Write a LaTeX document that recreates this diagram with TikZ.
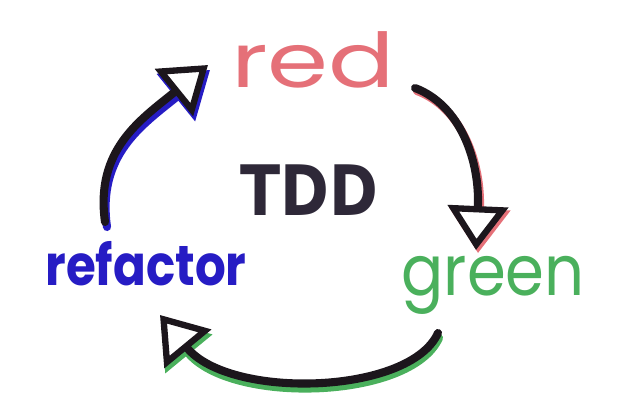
\documentclass[tikz,border=0pt]{standalone}
\usepackage{fontspec}
\setmainfont{Poppins}
\newfontfamily\tddfont{DejaVu Sans}
\usetikzlibrary{arrows.meta}

\definecolor{inkred}{RGB}{229,112,120}
\definecolor{inkgreen}{RGB}{74,176,92}
\definecolor{inkblue}{RGB}{38,28,196}
\definecolor{inkblack}{RGB}{28,22,28}
\definecolor{inktdd}{RGB}{46,40,56}

\begin{document}
\begin{tikzpicture}[x=0.02cm,y=-0.02cm,
  pen/.style={draw=inkblack,line width=4.6pt,line cap=round,
    -{Triangle[fill=white,line width=3.6pt,length=25pt,width=34pt]}},
  shade/.style={pen,draw=#1,-{Triangle[fill=none,line width=3.6pt,length=25pt,width=34pt,color=#1]}},
  word/.style={anchor=base,inner sep=0pt,text=#1}]
  \useasboundingbox (0,0) rectangle (624,418);
  % --- the three phases and the title ---
  \node[word=inkred,font=\fontsize{43}{43}\selectfont,xscale=1.3] (red) at (313,88) {red};
  \node[word=inkgreen,font=\fontsize{40}{40}\selectfont,xscale=0.89] (green) at (493,295) {green};
  \node[word=inkblue,font=\fontsize{32}{32}\selectfont\bfseries,xscale=0.86] (refactor) at (146,285) {refactor};
  \node[word=inktdd,font=\fontsize{36}{36}\selectfont\tddfont\bfseries,xscale=0.93,yscale=1.1] (tdd) at (309,215) {TDD};
  % --- arrow ends ---
  \coordinate (redout)  at (415,88);   % below the d of red
  \coordinate (greenin) at (476,250);  % tip over green
  \coordinate (greenout) at (438,333); % under the n of green
  \coordinate (refin)   at (160,315);  % tip over refactor
  \coordinate (refout)  at (105,222);  % above the r of refactor
  \coordinate (redin)   at (208,65);   % tip left of red
  % --- coloured edge of each stroke ---
  \draw[shade=inkred,transform canvas={xshift=0.04cm,yshift=-0.06cm}]
    (redout) .. controls (460,105) and (480,160) .. (greenin);
  \draw[shade=inkgreen,transform canvas={xshift=0.02cm,yshift=-0.1cm}]
    (greenout) .. controls (410,395) and (230,400) .. (refin);
  \draw[shade=inkblue,transform canvas={xshift=0.04cm,yshift=-0.1cm}]
    (refout) .. controls (95,150) and (140,120) .. (redin);
  % --- black strokes ---
  \draw[pen] (redout) .. controls (460,105) and (480,160) .. (greenin);
  \draw[pen] (greenout) .. controls (410,395) and (230,400) .. (refin);
  \draw[pen] (refout) .. controls (95,150) and (140,120) .. (redin);
\end{tikzpicture}
\end{document}
